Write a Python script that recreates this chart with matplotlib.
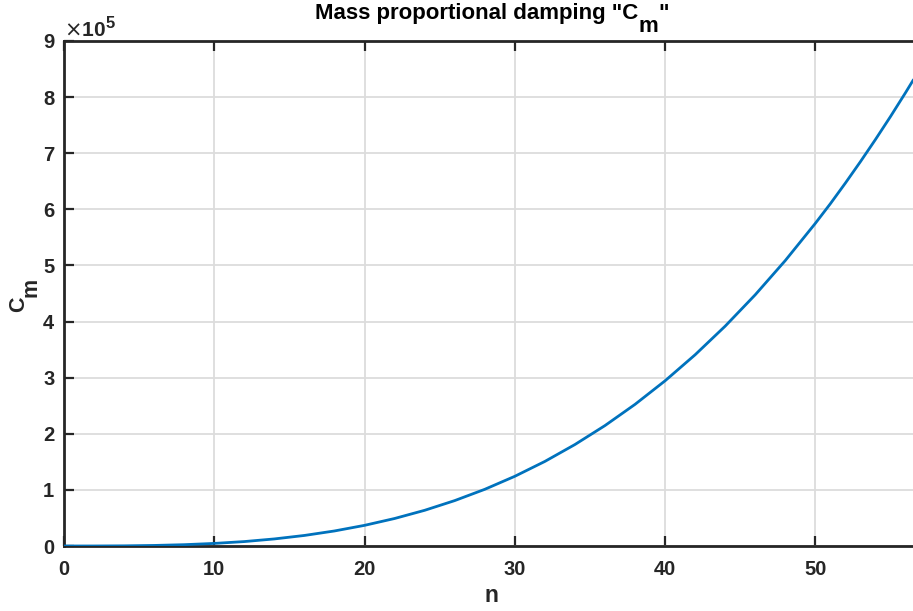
import matplotlib
matplotlib.use("Agg")
import matplotlib.pyplot as plt
from matplotlib.transforms import IdentityTransform

plt.rcParams['font.family'] = ['Liberation Sans', 'DejaVu Sans']

# Data (n, C_m)
n_vals = [0, 2, 4, 6, 8, 10, 12, 14, 16, 18, 20, 22, 24, 26, 28, 30, 32, 34, 36,
          38, 40, 42, 44, 46, 48, 50, 51, 52, 53, 54, 55, 56, 56.5]
cm_vals = [0, 40, 290, 990, 2360, 4600, 7900, 12600, 18800, 26800, 36800, 49000,
           63600, 80900, 101000, 124200, 150700, 180800, 214600, 252400, 294400,
           340800, 391800, 447700, 508700, 575000, 610000, 646800, 684900, 724400,
           765300, 807800, 829700]
x_ticks = [0, 10, 20, 30, 40, 50]
y_ticks = [0, 1e5, 2e5, 3e5, 4e5, 5e5, 6e5, 7e5, 8e5, 9e5]
y_tick_labels = ['0', '1', '2', '3', '4', '5', '6', '7', '8', '9']

W, H = 913, 611
fig = plt.figure(figsize=(W / 100, H / 100), dpi=100)
ax = fig.add_axes([64 / W, 1 - 546 / H, 1 - 64 / W, (546 - 41) / H])

ax.plot(n_vals, cm_vals, color='#0072BD', lw=2.0, zorder=3)
ax.set_xlim(0, 56.5)
ax.set_ylim(0, 9e5)
ax.set_xticks(x_ticks)
ax.set_xticklabels([str(t) for t in x_ticks])
ax.set_yticks(y_ticks)
ax.set_yticklabels(y_tick_labels)

ax.grid(True, color='#dcdcdc', lw=1.3)
ax.set_axisbelow(True)
for s in ['left', 'bottom', 'top']:
    ax.spines[s].set_color('#262626')
    ax.spines[s].set_linewidth(2.0)
ax.spines['right'].set_visible(False)
ax.tick_params(axis='both', direction='in', length=7, width=1.6, color='#262626',
               labelsize=14.5, labelcolor='#262626', pad=7, top=True, right=False)
ax.tick_params(axis='x', pad=10)
for lab in ax.get_xticklabels() + ax.get_yticklabels():
    lab.set_fontweight('bold')

ink = '#262626'
ident = IdentityTransform()
fig.canvas.draw()
renderer = fig.canvas.get_renderer()


def width_of(s, size):
    t = fig.text(0, 0, s, fontsize=size, fontweight='bold', transform=ident)
    w = t.get_window_extent(renderer).width
    t.remove()
    return w


def compose(pieces, cx, cy, size, color, rotation=0):
    # pieces: (text, drop_px); cx, cy in pixel coords (from bottom-left), baseline
    widths = [width_of(p, size) for p, _ in pieces]
    total = sum(widths)
    pos = -total / 2
    for (p, drop), w in zip(pieces, widths):
        if rotation == 0:
            x, y = cx + pos, cy - drop
        else:
            x, y = cx + drop, cy + pos
        fig.text(x, y, p, fontsize=size, fontweight='bold', color=color,
                 transform=ident, ha='left', va='baseline',
                 rotation=rotation, rotation_mode='anchor')
        pos += w


# Title
compose([('Mass proportional damping "C', 0), ('m', 13), ('"', 0)],
        492, H - 19, 16, 'black')
# Y label (rotated)
compose([('C', 0), ('m', 13)], 24, H - 295, 15.5, ink, rotation=90)
# X label
fig.text(491, H - 602, 'n', fontsize=16.5, fontweight='bold', color=ink,
         transform=ident, ha='center', va='baseline')
# Exponent
fig.text(64, H - 36, r'$\times$10', fontsize=15, fontweight='bold', color=ink,
         transform=ident, ha='left', va='baseline')
fig.text(106, H - 28, '5', fontsize=12, fontweight='bold', color=ink,
         transform=ident, ha='left', va='baseline')

fig.savefig('out.png', dpi=100)
